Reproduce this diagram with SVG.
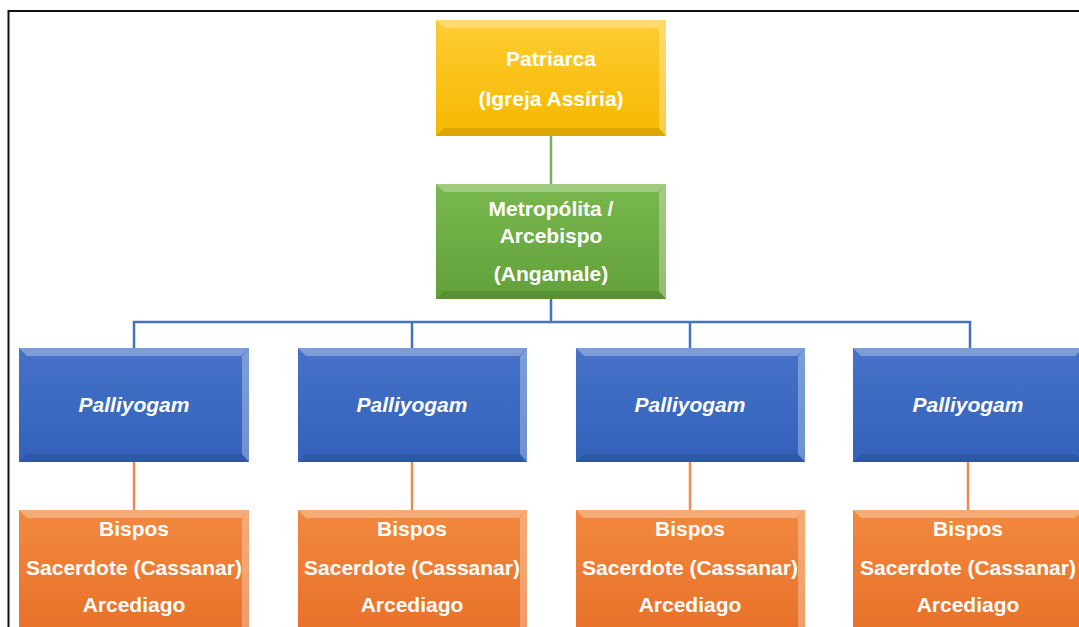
<svg xmlns="http://www.w3.org/2000/svg" width="1079" height="627" viewBox="0 0 1079 627">
<defs>
<linearGradient id="gy" x1="0" y1="0" x2="0" y2="1"><stop offset="0" stop-color="#FFCC33"/><stop offset="1" stop-color="#F5B800"/></linearGradient>
<linearGradient id="gg" x1="0" y1="0" x2="0" y2="1"><stop offset="0" stop-color="#79B84E"/><stop offset="1" stop-color="#62A03A"/></linearGradient>
<linearGradient id="gb" x1="0" y1="0" x2="0" y2="1"><stop offset="0" stop-color="#4673C8"/><stop offset="1" stop-color="#3360BA"/></linearGradient>
<linearGradient id="go" x1="0" y1="0" x2="0" y2="1"><stop offset="0" stop-color="#F2893E"/><stop offset="1" stop-color="#E8712A"/></linearGradient>
</defs>
<style>
.t{font-family:"Liberation Sans",Arial,sans-serif;font-weight:bold;font-size:21px;fill:#ffffff;text-anchor:middle}
.i{font-style:italic}
.hl{fill:#ffffff;opacity:0.3}
.sh{fill:#000000;opacity:0.1}
.cg{stroke:#7FAF5E;stroke-width:2.5;fill:none}
.cb{stroke:#4472C4;stroke-width:2.5;fill:none}
.co{stroke:#EE8A50;stroke-width:2.5;fill:none}
</style>
<rect x="0" y="0" width="1079" height="627" fill="#ffffff"/>
<path d="M8.5 627 V11 H1079" fill="none" stroke="#111111" stroke-width="2"/>
<g id="connectors">
<line class="cg" x1="551" y1="136" x2="551" y2="184"/>
<path class="cb" d="M551 299 V322 M134 348 V322 H970 V348 M412 322 V348 M690 322 V348"/>
<line class="co" x1="134" y1="462" x2="134" y2="510"/>
<line class="co" x1="412" y1="462" x2="412" y2="510"/>
<line class="co" x1="690" y1="462" x2="690" y2="510"/>
<line class="co" x1="968" y1="462" x2="968" y2="510"/>
</g>
<g id="patriarca">
<rect x="436" y="20" width="230" height="116" fill="url(#gy)"/>
<polygon class="hl" points="436,20 666,20 658,28 444,28"/>
<polygon class="hl" points="659,28 666,20 666,136 659,128"/>
<polygon class="sh" points="436,136 666,136 658,128 444,128"/>
<text class="t" x="551" y="66">Patriarca</text>
<text class="t" x="551" y="106">(Igreja Assíria)</text>
</g>
<g id="metropolita">
<rect x="436" y="184" width="230" height="115" fill="url(#gg)"/>
<polygon class="hl" points="436,184 666,184 658,192 444,192"/>
<polygon class="hl" points="659,192 666,184 666,299 659,291"/>
<polygon class="sh" points="436,299 666,299 658,291 444,291"/>
<text class="t" x="551" y="216">Metropólita /</text>
<text class="t" x="551" y="243">Arcebispo</text>
<text class="t" x="551" y="281">(Angamale)</text>
</g>
<g id="palliyogam1">
<rect x="19" y="348" width="230" height="114" fill="url(#gb)"/>
<polygon class="hl" points="19,348 249,348 241,356 27,356"/>
<polygon class="hl" points="242,356 249,348 249,462 242,454"/>
<polygon class="sh" points="19,462 249,462 241,454 27,454"/>
<text class="t i" x="134" y="412">Palliyogam</text>
</g>
<g id="palliyogam2">
<rect x="298" y="348" width="229" height="114" fill="url(#gb)"/>
<polygon class="hl" points="298,348 527,348 519,356 306,356"/>
<polygon class="hl" points="520,356 527,348 527,462 520,454"/>
<polygon class="sh" points="298,462 527,462 519,454 306,454"/>
<text class="t i" x="412" y="412">Palliyogam</text>
</g>
<g id="palliyogam3">
<rect x="576" y="348" width="229" height="114" fill="url(#gb)"/>
<polygon class="hl" points="576,348 805,348 797,356 584,356"/>
<polygon class="hl" points="798,356 805,348 805,462 798,454"/>
<polygon class="sh" points="576,462 805,462 797,454 584,454"/>
<text class="t i" x="690" y="412">Palliyogam</text>
</g>
<g id="palliyogam4">
<rect x="853" y="348" width="230" height="114" fill="url(#gb)"/>
<polygon class="hl" points="853,348 1083,348 1075,356 861,356"/>
<polygon class="sh" points="853,462 1083,462 1075,454 861,454"/>
<text class="t i" x="968" y="412">Palliyogam</text>
</g>
<g id="bispos1">
<rect x="19" y="510" width="230" height="120" fill="url(#go)"/>
<polygon class="hl" points="19,510 249,510 241,518 27,518"/>
<polygon class="hl" points="242,518 249,510 249,627 242,627"/>
<text class="t" x="134" y="536">Bispos</text>
<text class="t" x="134" y="575">Sacerdote (Cassanar)</text>
<text class="t" x="134" y="612">Arcediago</text>
</g>
<g id="bispos2">
<rect x="298" y="510" width="229" height="120" fill="url(#go)"/>
<polygon class="hl" points="298,510 527,510 519,518 306,518"/>
<polygon class="hl" points="520,518 527,510 527,627 520,627"/>
<text class="t" x="412" y="536">Bispos</text>
<text class="t" x="412" y="575">Sacerdote (Cassanar)</text>
<text class="t" x="412" y="612">Arcediago</text>
</g>
<g id="bispos3">
<rect x="576" y="510" width="229" height="120" fill="url(#go)"/>
<polygon class="hl" points="576,510 805,510 797,518 584,518"/>
<polygon class="hl" points="798,518 805,510 805,627 798,627"/>
<text class="t" x="690" y="536">Bispos</text>
<text class="t" x="690" y="575">Sacerdote (Cassanar)</text>
<text class="t" x="690" y="612">Arcediago</text>
</g>
<g id="bispos4">
<rect x="853" y="510" width="230" height="120" fill="url(#go)"/>
<polygon class="hl" points="853,510 1083,510 1075,518 861,518"/>
<text class="t" x="968" y="536">Bispos</text>
<text class="t" x="968" y="575">Sacerdote (Cassanar)</text>
<text class="t" x="968" y="612">Arcediago</text>
</g>
</svg>
